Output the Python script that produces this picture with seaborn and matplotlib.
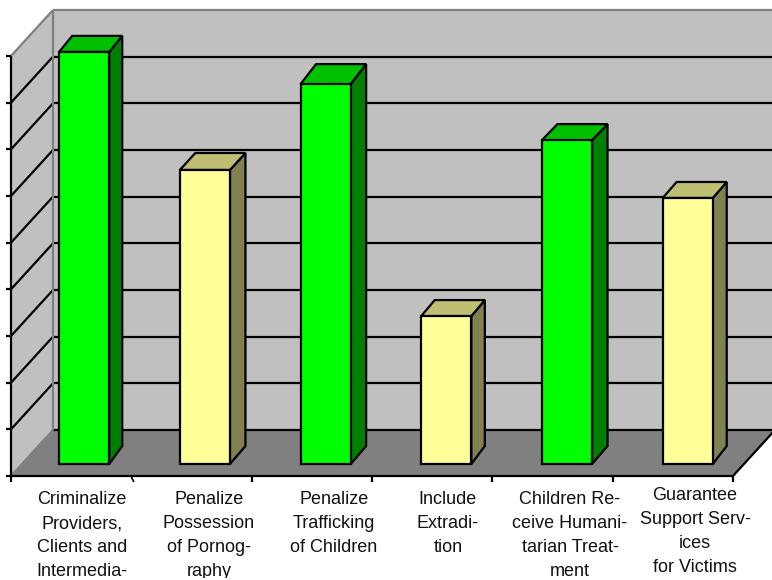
import matplotlib
matplotlib.use("Agg")
import matplotlib.pyplot as plt
from matplotlib.patches import Rectangle
from matplotlib.transforms import Bbox
import seaborn as sns
import pandas as pd
import numpy as np

categories = ["Criminalize", "Possession", "Trafficking", "Extradition", "Humanitarian", "Support"]
tick_labels = [
    "Criminalize\nProviders,\nClients and\nIntermedia-",
    "Penalize\nPossession\nof Pornog-\nraphy",
    "Penalize\nTrafficking\nof Children",
    "Include\nExtradi-\ntion",
    "Children Re-\nceive Humani-\ntarian Treat-\nment",
    "Guarantee\nSupport Serv-\nices\nfor Victims",
]
values = [8.83, 6.30, 8.14, 3.17, 6.94, 5.70]
groups = ["yes", "no", "yes", "no", "yes", "no"]

W, H = 772, 580
PX_PER_CAT, PX_PER_UNIT = 120.7, 46.67
X0, Y0 = 84.2, 464.0          # first bar centre, bar base (pixels)
def X(px): return (px - X0) / PX_PER_CAT
def Y(py): return (Y0 - py) / PX_PER_UNIT

FRONT_L, FRONT_R, FRONT_B = 11, 733, 476
BACK_DX, BACK_DY = 42, 46
N_GRID = 9
FACE = {"yes": ("#00FF00", "#008000", "#00C000"), "no": ("#FFFF99", "#808050", "#BFBF73")}
LW = 1.6

sns.set_theme(style="white")
plt.rcParams["font.family"] = ["Liberation Sans", "DejaVu Sans"]
fig = plt.figure(figsize=(W / 100, H / 100), dpi=100)
ax = fig.add_axes([0, 0, 1, 1])

def poly(xs, ys, color, z, edge="none", lw=0):
    ax.fill([X(x) for x in xs], [Y(y) for y in ys], facecolor=color, edgecolor=edge,
            linewidth=lw, zorder=z, joinstyle="miter")
def line(xs, ys, color="black", z=1.5, lw=LW):
    ax.plot([X(x) for x in xs], [Y(y) for y in ys], color=color, lw=lw, zorder=z,
            solid_capstyle="butt", clip_on=True)

bl, bb = FRONT_L + BACK_DX, FRONT_B - BACK_DY
top_f = FRONT_B - N_GRID * PX_PER_UNIT
top_b = bb - N_GRID * PX_PER_UNIT
# walls + floor
poly([bl, W + 5, W + 5, bl], [bb, bb, top_b, top_b], "#C0C0C0", 1)
poly([FRONT_L, bl, bl, FRONT_L], [FRONT_B, bb, top_b, top_f], "#C0C0C0", 1)
poly([FRONT_L, FRONT_R, FRONT_R + BACK_DX, bl], [FRONT_B, FRONT_B, bb, bb], "#808080", 1)
# gridlines
for k in range(0, N_GRID):
    dy = k * PX_PER_UNIT
    line([bl, W + 5], [bb - dy, bb - dy])
    if k > 0:
        line([FRONT_L, bl], [FRONT_B - dy, bb - dy])
# grey wall edges
line([bl, W + 5], [top_b, top_b], "#808080")
line([bl, bl], [bb, top_b], "#808080")
line([FRONT_L, bl], [top_f, top_b], "#808080")
line([FRONT_L, bl], [FRONT_B, bb], "#808080")
# front axes
line([FRONT_L, FRONT_L], [FRONT_B, top_f])
line([FRONT_L, FRONT_R], [FRONT_B, FRONT_B])
line([FRONT_R, FRONT_R + BACK_DX], [FRONT_B, bb])
for k in range(N_GRID + 1):
    y = FRONT_B - k * PX_PER_UNIT
    line([FRONT_L - 5, FRONT_L], [y, y])
for i in range(7):
    x = FRONT_L + i * (FRONT_R - FRONT_L) / 6
    if i == 1:
        line([x, x + 2.5], [FRONT_B + 1, FRONT_B + 6], lw=1.2)   # the slanted second tick
    else:
        line([x, x], [FRONT_B, FRONT_B + 6])

# bars through seaborn
df = pd.DataFrame({"category": categories, "value": values, "group": groups})
sns.barplot(data=df, x="category", y="value", hue="group", dodge=False, legend=False, width=0.415,
            palette={g: FACE[g][0] for g in FACE}, edgecolor="black", linewidth=LW, ax=ax, zorder=4,
            order=categories, saturation=1)

# extruded side and top faces, derived from each bar
depth_x = [13, 15.5, 15.5, 13.5, 15.5, 14]
depth_top = [16, 17, 20, 16, 16, 16]
depth_bottom = 18
bars = [b for b in ax.patches if isinstance(b, Rectangle) and b.get_height() > 0]
bars.sort(key=lambda b: b.get_x())
for b, g, ddx, ddt in zip(bars, groups, depth_x, depth_top):
    x0, x1, h = b.get_x(), b.get_x() + b.get_width(), b.get_height()
    dx, dy, dyb = ddx / PX_PER_CAT, ddt / PX_PER_UNIT, depth_bottom / PX_PER_UNIT
    ax.fill([x1, x1 + dx, x1 + dx, x1], [0, dyb, h + dy, h], facecolor=FACE[g][1], edgecolor="black",
            linewidth=LW, zorder=3.5, joinstyle="miter")
    ax.fill([x0, x1, x1 + dx, x0 + dx], [h, h, h + dy, h + dy], facecolor=FACE[g][2], edgecolor="black",
            linewidth=LW, zorder=3.5, joinstyle="miter")

# category labels
label_cx = [82, 209, 334, 448, 570, 695]
label_top = [491, 491, 491, 491, 491, 487]
label_clip = [578, 578, 578, 578, 578, 573]
for t, cx, cy, cl in zip(tick_labels, label_cx, label_top, label_clip):
    txt = ax.text(X(cx), Y(cy), t, ha="center", va="top", fontsize=13.0, color="#111111", linespacing=1.54)
    txt.set_clip_on(True)
    txt.set_clip_box(Bbox([[0, H - cl], [W, H]]))

ax.set_xlim(X(0), X(W))
ax.set_ylim(Y(H), Y(0))
ax.axis("off")
fig.savefig("out.png", dpi=100, facecolor="white")
